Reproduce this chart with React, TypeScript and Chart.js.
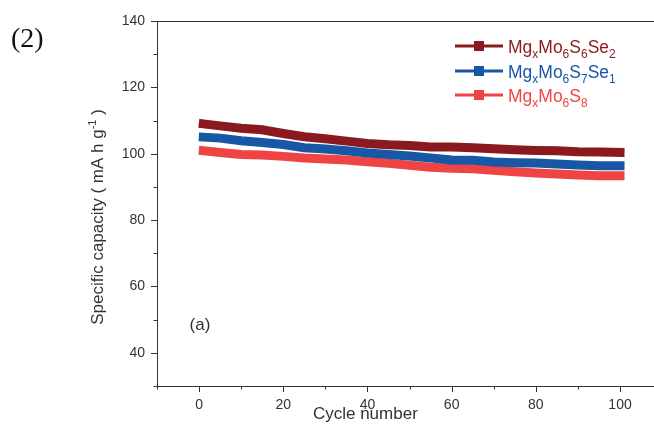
import React, { useEffect, useRef } from "react";
import { Chart, registerables } from "chart.js";

Chart.register(...registerables);

// ---- data ----
const cycles = [1, 5, 10, 15, 20, 25, 30, 35, 40, 45, 50, 55, 60, 65, 70, 75, 80, 85, 90, 95, 100];
const capS6Se2 = [109.0, 108.4, 107.7, 107.2, 106.1, 105.1, 104.5, 103.8, 103.1, 102.7, 102.5, 102.0, 102.0, 101.8, 101.5, 101.2, 101.0, 100.9, 100.6, 100.5, 100.4];
const capS7Se1 = [105.0, 104.7, 103.9, 103.4, 102.8, 101.8, 101.4, 100.9, 100.2, 99.8, 99.3, 98.7, 98.1, 98.0, 97.5, 97.3, 97.2, 96.9, 96.6, 96.4, 96.4];
const capS8 = [100.9, 100.4, 99.8, 99.6, 99.2, 98.7, 98.4, 98.1, 97.6, 97.1, 96.5, 95.9, 95.6, 95.5, 95.0, 94.6, 94.2, 93.9, 93.6, 93.4, 93.4];

const xTickValues = [-10, 0, 10, 20, 30, 40, 50, 60, 70, 80, 90, 100];
const yTickValues = [30, 40, 50, 60, 70, 80, 90, 100, 110, 120, 130, 140];

// legend label pieces: [text, isSubscript]
const legendParts: [string, boolean][][] = [
  [["Mg", false], ["x", true], ["Mo", false], ["6", true], ["S", false], ["6", true], ["Se", false], ["2", true]],
  [["Mg", false], ["x", true], ["Mo", false], ["6", true], ["S", false], ["7", true], ["Se", false], ["1", true]],
  [["Mg", false], ["x", true], ["Mo", false], ["6", true], ["S", false], ["8", true]],
];

const COLORS = ["#8a1a1f", "#1757a6", "#ef4444"];
const AXIS = "#333333";
const SANS = '"Liberation Sans", Arial, sans-serif';

const decorPlugin = {
  id: "decor",
  afterDraw(chart: any) {
    const { ctx, chartArea } = chart;
    const x = chart.scales.x;
    const y = chart.scales.y;
    ctx.save();
    ctx.strokeStyle = AXIS;
    ctx.lineWidth = 1;
    // top frame line
    ctx.beginPath();
    ctx.moveTo(chartArea.left, Math.round(chartArea.top) + 0.5);
    ctx.lineTo(chartArea.right, Math.round(chartArea.top) + 0.5);
    ctx.stroke();
    // tick marks
    ctx.beginPath();
    const b = Math.round(chartArea.bottom);
    xTickValues.forEach((v) => {
      const px = Math.round(x.getPixelForValue(v)) + 0.5;
      const len = v % 20 === 0 ? 6 : 3.5;
      ctx.moveTo(px, b);
      ctx.lineTo(px, b + len);
    });
    const l = Math.round(chartArea.left);
    yTickValues.forEach((v) => {
      const py = Math.round(y.getPixelForValue(v)) + 0.5;
      const len = v % 20 === 0 ? 6 : 3.5;
      ctx.moveTo(l, py);
      ctx.lineTo(l - len, py);
    });
    ctx.stroke();

    // axis titles
    ctx.fillStyle = AXIS;
    ctx.textBaseline = "middle";
    ctx.textAlign = "center";
    ctx.font = `17px ${SANS}`;
    ctx.fillText("Cycle number", x.getPixelForValue(39.5), 414);

    // y title with superscript
    ctx.save();
    ctx.translate(97, 217);
    ctx.rotate(-Math.PI / 2);
    ctx.textAlign = "left";
    ctx.textBaseline = "alphabetic";
    const main1 = "Specific capacity ( mA h g";
    const sup = "-1";
    const main2 = " )";
    ctx.font = `17px ${SANS}`;
    const w1 = ctx.measureText(main1).width;
    const w3 = ctx.measureText(main2).width;
    ctx.font = `11px ${SANS}`;
    const w2 = ctx.measureText(sup).width;
    const total = w1 + w2 + w3;
    let cx = -total / 2;
    const base = 6;
    ctx.font = `17px ${SANS}`;
    ctx.fillText(main1, cx, base);
    cx += w1;
    ctx.font = `11px ${SANS}`;
    ctx.fillText(sup, cx, base - 7);
    cx += w2;
    ctx.font = `17px ${SANS}`;
    ctx.fillText(main2, cx, base);
    ctx.restore();

    // panel label (a)
    ctx.textAlign = "center";
    ctx.textBaseline = "middle";
    ctx.font = `17px ${SANS}`;
    ctx.fillText("(a)", x.getPixelForValue(0.2), y.getPixelForValue(48.2));

    // (2) label
    ctx.textAlign = "left";
    ctx.textBaseline = "alphabetic";
    ctx.fillStyle = "#111111";
    ctx.font = '28px "Liberation Serif", "Times New Roman", serif';
    ctx.fillText("(2)", 11, 47);

    // legend
    const rowsY = [46, 71, 95];
    legendParts.forEach((parts, i) => {
      const ry = rowsY[i];
      const col = chart.data.datasets[i].borderColor;
      ctx.strokeStyle = col;
      ctx.fillStyle = col;
      ctx.lineWidth = 3;
      ctx.beginPath();
      ctx.moveTo(455, ry);
      ctx.lineTo(503, ry);
      ctx.stroke();
      ctx.fillRect(474, ry - 5, 10, 10);
      let tx = 508;
      const baseline = ry + 6.5;
      parts.forEach(([t, sub]) => {
        ctx.font = sub ? `12px ${SANS}` : `17.5px ${SANS}`;
        ctx.fillText(t, tx, sub ? baseline + 5 : baseline);
        tx += ctx.measureText(t).width;
      });
    });
    ctx.restore();
  },
};

export default function App() {
  const ref = useRef<HTMLCanvasElement | null>(null);
  useEffect(() => {
    if (!ref.current) return;
    const mk = (vals: number[]) => cycles.map((c, i) => ({ x: c, y: vals[i] }));
    const chart = new Chart(ref.current, {
      type: "line",
      data: {
        datasets: [
          { label: "MgxMo6S6Se2", data: mk(capS6Se2), borderColor: COLORS[0], backgroundColor: COLORS[0] },
          { label: "MgxMo6S7Se1", data: mk(capS7Se1), borderColor: COLORS[1], backgroundColor: COLORS[1] },
          { label: "MgxMo6S8", data: mk(capS8), borderColor: COLORS[2], backgroundColor: COLORS[2] },
        ].map((d) => ({
          ...d,
          borderWidth: 9,
          pointRadius: 0,
          tension: 0,
          borderCapStyle: "square" as const,
          borderJoinStyle: "miter" as const,
          fill: false,
        })),
      },
      options: {
        responsive: false,
        devicePixelRatio: 1,
        animation: false,
        layout: { padding: { top: 21, right: 0, left: 0, bottom: 0 } },
        plugins: { legend: { display: false }, tooltip: { enabled: false } },
        scales: {
          x: {
            type: "linear",
            min: -10,
            max: 108.07,
            afterBuildTicks: (s: any) => {
              s.ticks = xTickValues.map((v) => ({ value: v }));
            },
            afterFit: (s: any) => {
              s.height = 47;
            },
            ticks: {
              autoSkip: false,
              maxRotation: 0,
              padding: 11,
              color: AXIS,
              font: { family: SANS, size: 14 },
              callback: (v: any) => (Number(v) % 20 === 0 && Number(v) >= 0 ? String(v) : ""),
            },
            grid: { display: false, drawTicks: false },
            border: { display: true, color: AXIS, width: 1 },
          },
          y: {
            type: "linear",
            min: 30,
            max: 140,
            afterBuildTicks: (s: any) => {
              s.ticks = yTickValues.map((v) => ({ value: v }));
            },
            afterFit: (s: any) => {
              s.width = 157;
            },
            ticks: {
              autoSkip: false,
              padding: 12,
              color: AXIS,
              font: { family: SANS, size: 14 },
              callback: (v: any) => (Number(v) % 20 === 0 && Number(v) >= 40 ? String(v) : ""),
            },
            grid: { display: false, drawTicks: false },
            border: { display: true, color: AXIS, width: 1 },
          },
        },
      },
      plugins: [decorPlugin],
    });
    return () => chart.destroy();
  }, []);
  return (
    <div style={{ position: "absolute", left: 0, top: 0, width: 654, height: 433, background: "#fff" }}>
      <canvas ref={ref} width={654} height={433} style={{ width: 654, height: 433, display: "block" }} />
    </div>
  );
}
